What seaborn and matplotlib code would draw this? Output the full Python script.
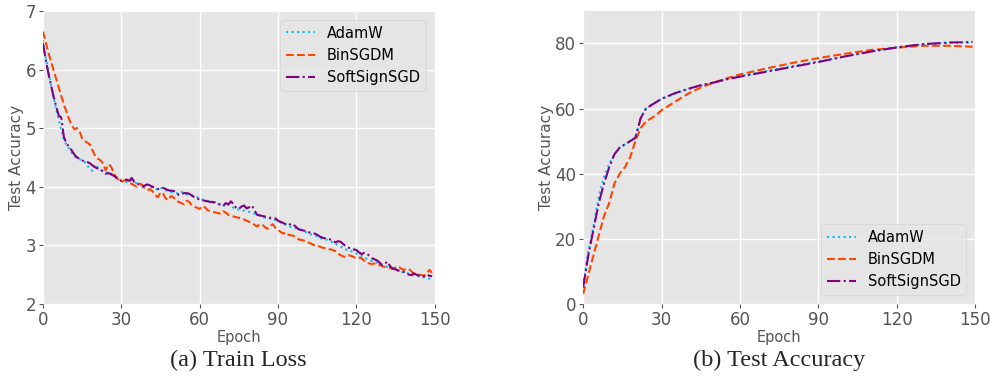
import matplotlib
matplotlib.use("Agg")
import matplotlib.pyplot as plt
import seaborn as sns

# ---------------- data ----------------
loss_epochs = list(range(150))

loss_adamw = [6.50, 6.22, 6.00, 5.75, 5.55, 5.33, 5.15, 4.97, 4.80, 4.72,
              4.65, 4.58, 4.52, 4.49, 4.47, 4.45, 4.42, 4.36, 4.30, 4.27,
              4.38, 4.33, 4.28, 4.27, 4.25, 4.22, 4.20, 4.19, 4.17, 4.13,
              4.10, 4.09, 4.08, 4.11, 4.10, 4.07, 4.06, 4.05, 4.03, 4.04,
              4.02, 4.00, 3.99, 3.96, 3.95, 3.98, 3.97, 3.94, 3.92, 3.91,
              3.90, 3.89, 3.88, 3.91, 3.90, 3.87, 3.86, 3.85, 3.84, 3.82,
              3.80, 3.78, 3.77, 3.76, 3.75, 3.73, 3.72, 3.71, 3.70, 3.68,
              3.66, 3.69, 3.67, 3.64, 3.62, 3.61, 3.60, 3.59, 3.58, 3.57,
              3.56, 3.54, 3.52, 3.51, 3.49, 3.47, 3.46, 3.45, 3.44, 3.43,
              3.42, 3.39, 3.37, 3.35, 3.33, 3.31, 3.30, 3.29, 3.28, 3.26,
              3.24, 3.22, 3.20, 3.18, 3.17, 3.15, 3.13, 3.11, 3.10, 3.09,
              3.07, 3.05, 3.03, 3.00, 2.98, 2.95, 2.93, 2.91, 2.90, 2.88,
              2.86, 2.84, 2.82, 2.79, 2.77, 2.75, 2.73, 2.71, 2.70, 2.68,
              2.66, 2.65, 2.63, 2.61, 2.60, 2.58, 2.57, 2.55, 2.54, 2.53,
              2.52, 2.50, 2.49, 2.48, 2.47, 2.46, 2.45, 2.44, 2.43, 2.42]

loss_binsgdm = [6.65, 6.48, 6.30, 6.15, 6.00, 5.85, 5.70, 5.55, 5.40, 5.28,
                5.15, 5.05, 4.98, 5.00, 4.95, 4.82, 4.78, 4.75, 4.72, 4.62,
                4.52, 4.48, 4.45, 4.40, 4.28, 4.38, 4.35, 4.25, 4.15, 4.12,
                4.08, 4.10, 4.12, 4.06, 4.05, 4.02, 4.00, 4.05, 4.03, 3.97,
                3.94, 3.96, 3.92, 3.86, 3.82, 3.90, 3.88, 3.80, 3.77, 3.84,
                3.82, 3.76, 3.74, 3.72, 3.70, 3.76, 3.74, 3.68, 3.66, 3.64,
                3.62, 3.67, 3.65, 3.60, 3.58, 3.57, 3.56, 3.55, 3.54, 3.58,
                3.56, 3.52, 3.50, 3.49, 3.48, 3.47, 3.46, 3.44, 3.42, 3.40,
                3.38, 3.35, 3.32, 3.36, 3.35, 3.31, 3.28, 3.33, 3.36, 3.30,
                3.26, 3.23, 3.20, 3.22, 3.18, 3.17, 3.16, 3.13, 3.10, 3.09,
                3.08, 3.06, 3.04, 3.02, 3.00, 2.99, 2.98, 2.96, 2.95, 2.94,
                2.93, 2.92, 2.90, 2.86, 2.83, 2.81, 2.80, 2.83, 2.82, 2.80,
                2.78, 2.79, 2.78, 2.74, 2.70, 2.69, 2.68, 2.69, 2.68, 2.66,
                2.64, 2.63, 2.62, 2.61, 2.60, 2.62, 2.64, 2.61, 2.58, 2.59,
                2.60, 2.56, 2.52, 2.51, 2.50, 2.49, 2.48, 2.52, 2.58, 2.53]

loss_softsign = [6.45, 6.18, 5.95, 5.75, 5.55, 5.38, 5.22, 5.18, 4.85, 4.74,
                 4.68, 4.62, 4.55, 4.50, 4.48, 4.45, 4.43, 4.42, 4.40, 4.36,
                 4.33, 4.31, 4.30, 4.26, 4.22, 4.23, 4.22, 4.19, 4.16, 4.13,
                 4.10, 4.11, 4.12, 4.10, 4.15, 4.08, 4.06, 4.03, 4.00, 4.02,
                 4.04, 4.02, 4.00, 3.98, 3.96, 3.97, 3.98, 3.96, 3.94, 3.93,
                 3.93, 3.90, 3.86, 3.87, 3.89, 3.89, 3.88, 3.85, 3.82, 3.80,
                 3.78, 3.77, 3.76, 3.75, 3.74, 3.74, 3.73, 3.71, 3.69, 3.67,
                 3.72, 3.70, 3.75, 3.70, 3.64, 3.62, 3.66, 3.68, 3.63, 3.65,
                 3.68, 3.60, 3.52, 3.51, 3.50, 3.49, 3.48, 3.47, 3.47, 3.46,
                 3.42, 3.40, 3.38, 3.36, 3.34, 3.37, 3.35, 3.31, 3.27, 3.26,
                 3.25, 3.24, 3.22, 3.21, 3.20, 3.18, 3.15, 3.13, 3.12, 3.11,
                 3.10, 3.08, 3.05, 3.07, 3.06, 3.02, 2.98, 2.96, 2.94, 2.93,
                 2.92, 2.88, 2.85, 2.87, 2.86, 2.82, 2.78, 2.76, 2.74, 2.70,
                 2.66, 2.69, 2.72, 2.64, 2.60, 2.59, 2.57, 2.56, 2.55, 2.52,
                 2.50, 2.49, 2.52, 2.50, 2.48, 2.47, 2.47, 2.50, 2.48, 2.47]

acc_epochs = [0, 2, 4, 6, 8, 10, 12, 14, 16, 18, 20, 22, 24, 26, 28, 30,
              35, 40, 45, 50, 55, 60, 70, 80, 90, 100, 110, 120, 130, 140, 149]

acc_adamw = [5.5, 16, 24, 33, 39, 43, 46, 48, 49, 50, 51, 57, 60, 61, 62, 63,
             64.5, 66, 67, 68, 69, 70, 71.5, 73, 74.5, 76, 77.5, 78.8, 79.7, 80.2, 80.3]

acc_binsgdm = [3, 9, 15, 21, 27, 31, 37, 40, 42, 45, 50, 54, 56, 57, 58, 59.5,
               62, 64.5, 66.5, 68, 69.3, 70.5, 72.3, 74, 75.5, 76.8, 78, 78.7, 79.3, 79.3, 79.0]

acc_softsign = [5, 15, 23, 31, 37, 42, 46, 48, 49, 50, 51, 57, 60, 61, 62, 63,
                64.7, 66, 67.2, 68, 69, 69.8, 71.3, 72.8, 74.3, 76, 77.5, 78.8, 79.8, 80.3, 80.4]

names = ["AdamW", "BinSGDM", "SoftSignSGD"]
colors = ["#00BFFF", "#FF4500", "#800080"]
styles = [":", "--", "-."]

# ---------------- figure ----------------
plt.style.use("ggplot")
sns.set_style("darkgrid", {"axes.facecolor": "#E5E5E5", "grid.color": "white",
                           "axes.edgecolor": "white", "xtick.bottom": True,
                           "ytick.left": True})
plt.rcParams["font.family"] = ["DejaVu Sans"]

fig = plt.figure(figsize=(9.9, 3.77), dpi=100)
bottom, top = 0.194, 0.971
ax1 = fig.add_axes([0.0434, bottom, 0.439 - 0.0434, top - bottom])
ax2 = fig.add_axes([0.589, bottom, 0.985 - 0.589, top - bottom])

for vals, n, c, s in zip([loss_adamw, loss_binsgdm, loss_softsign], names, colors, styles):
    sns.lineplot(x=loss_epochs, y=vals, ax=ax1, color=c, linestyle=s, linewidth=1.5, label=n)
for vals, n, c, s in zip([acc_adamw, acc_binsgdm, acc_softsign], names, colors, styles):
    sns.lineplot(x=acc_epochs, y=vals, ax=ax2, color=c, linestyle=s, linewidth=1.5, label=n)

ax1.set_xlim(0, 150)
ax1.set_ylim(2, 7)
ax1.set_xticks([0, 30, 60, 90, 120, 150])
ax1.set_yticks([2, 3, 4, 5, 6, 7])
ax2.set_xlim(0, 150)
ax2.set_ylim(0, 90)
ax2.set_xticks([0, 30, 60, 90, 120, 150])
ax2.set_yticks([0, 20, 40, 60, 80])

for ax, loc in [(ax1, "upper right"), (ax2, "lower right")]:
    ax.set_xlabel("Epoch", fontsize=10.5, color="#555555", labelpad=1)
    ax.set_ylabel("Test Accuracy", fontsize=11, color="#555555", labelpad=1)
    ax.tick_params(axis="both", labelsize=12, colors="#555555", length=3, width=0.8,
                   direction="out", pad=2)
    for sp in ax.spines.values():
        sp.set_visible(False)
    ax.grid(True, color="white", linewidth=1)
    leg = ax.legend(loc=loc, fontsize=10.5, frameon=True, handlelength=2.0,
                    borderaxespad=0.6)
    leg.get_frame().set_facecolor("#E5E5E5")
    leg.get_frame().set_edgecolor("#D0D0D0")
    for t in leg.get_texts():
        t.set_color("black")

fig.text((0.0434 + 0.439) / 2, 0.045, "(a) Train Loss", ha="center", va="center",
         fontsize=17.5, family=["Liberation Serif"])
fig.text((0.589 + 0.985) / 2, 0.045, "(b) Test Accuracy", ha="center", va="center",
         fontsize=17.5, family=["Liberation Serif"])

fig.savefig("out.png", dpi=100)
